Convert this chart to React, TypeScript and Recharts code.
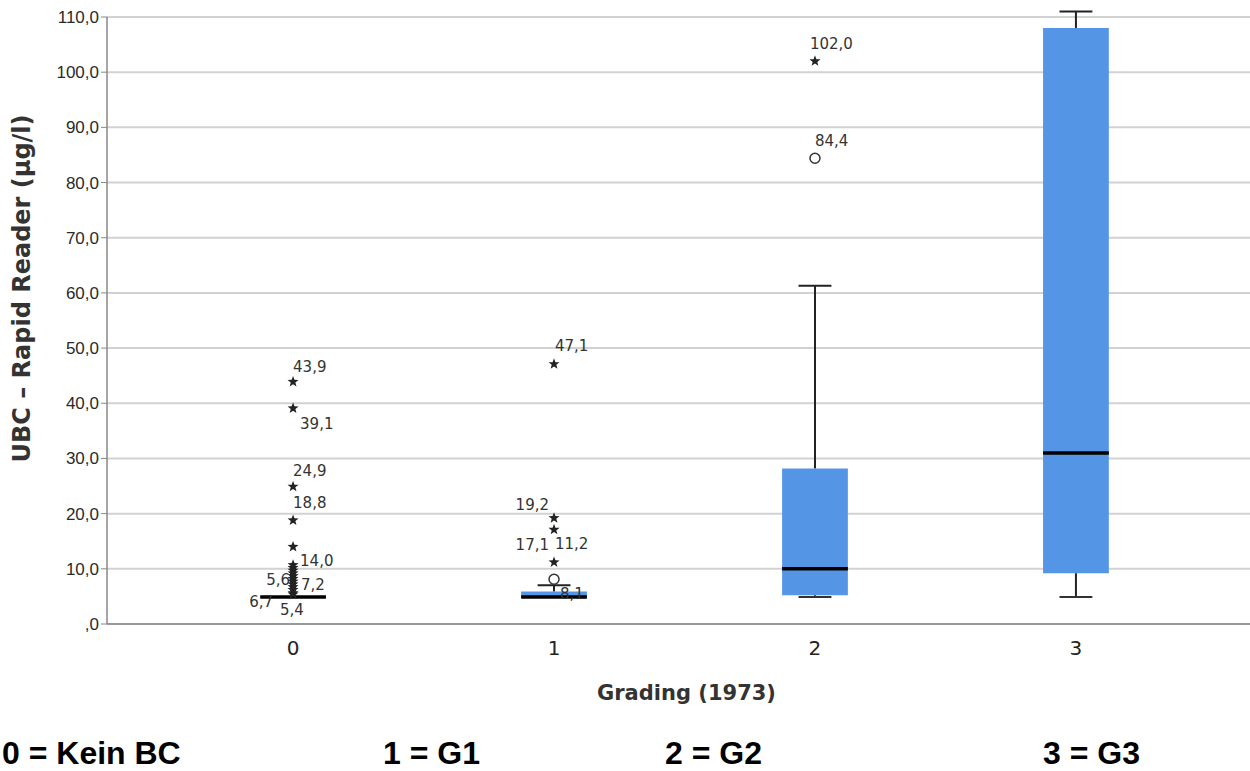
import React from "react";
import {
  ComposedChart,
  XAxis,
  YAxis,
  CartesianGrid,
  Scatter,
  ReferenceArea,
  ReferenceLine,
  Label,
} from "recharts";

// groups on the x axis
const categories = [0, 1, 2, 3];
const categoryLegend = ["0 = Kein BC", "1 = G1", "2 = G2", "3 = G3"];
const yTicks = [0, 10, 20, 30, 40, 50, 60, 70, 80, 90, 100, 110];

// box plot statistics per group
const q1 = [4.9, 4.9, 5.2, 9.2];
const medians = [4.9, 4.9, 10.0, 31.0];
const q3 = [4.9, 5.9, 28.2, 108.0];
const whiskerLow = [4.9, 4.9, 4.9, 4.9];
const whiskerHigh = [4.9, 7.0, 61.3, 111.0];

// outliers (stars = extreme, circles = mild)
const outliers0 = [43.9, 39.1, 24.9, 18.8, 14.0, 10.7, 10.2, 9.7, 9.2, 8.7, 8.2, 7.7, 7.2, 6.7, 6.2, 5.6, 5.4];
const outlierKinds0 = outliers0.map(() => "star");
const outliers1 = [47.1, 19.2, 17.1, 11.2, 8.1];
const outlierKinds1 = ["star", "star", "star", "star", "circle"];
const outliers2 = [102.0, 84.4];
const outlierKinds2 = ["star", "circle"];
const labelled = ["0:43.9", "0:39.1", "0:24.9", "0:18.8", "0:14.0", "0:7.2", "0:5.6", "0:6.7", "0:5.4",
  "1:47.1", "1:19.2", "1:17.1", "1:11.2", "1:8.1", "2:102.0", "2:84.4"];

// label placement next to each labelled point: [dx, dy, anchor]
const labelPlace: Record<string, [number, number, string]> = {
  "0:43.9": [0, -10, "start"],
  "0:39.1": [7, 21, "start"],
  "0:24.9": [0, -11, "start"],
  "0:18.8": [0, -12, "start"],
  "0:14.0": [7, 19, "start"],
  "0:7.2": [8, 6, "start"],
  "0:5.6": [-3, -8, "end"],
  "0:6.7": [-20, 20, "end"],
  "0:5.4": [-13, 21, "start"],
  "1:47.1": [1, -13, "start"],
  "1:19.2": [-5, -8, "end"],
  "1:17.1": [-5, 20, "end"],
  "1:11.2": [1, -13, "start"],
  "1:8.1": [6, 20, "start"],
  "2:102.0": [-5, -12, "start"],
  "2:84.4": [0, -12, "start"],
};

const BOX_HALF = 0.126;
const CAP_HALF = 0.063;
const BOX_COLOR = "#5495e5";

const fmt = (v: number) => (v === 0 ? ",0" : v.toFixed(1).replace(".", ","));

const outlierPoints = [
  ...outliers0.map((v, i) => ({ x: 0, y: v, kind: outlierKinds0[i] })),
  ...outliers1.map((v, i) => ({ x: 1, y: v, kind: outlierKinds1[i] })),
  ...outliers2.map((v, i) => ({ x: 2, y: v, kind: outlierKinds2[i] })),
].map((p) => {
  const key = `${p.x}:${p.y.toFixed(1)}`;
  return { ...p, key, label: labelled.includes(key) ? fmt(p.y) : null };
});

const starPath = (cx: number, cy: number, ro: number, ri: number) => {
  let d = "";
  for (let i = 0; i < 10; i++) {
    const r = i % 2 === 0 ? ro : ri;
    const a = -Math.PI / 2 + (i * Math.PI) / 5;
    d += `${i === 0 ? "M" : "L"}${cx + r * Math.cos(a)},${cy + r * Math.sin(a)}`;
  }
  return d + "Z";
};

const OutlierShape = (props: any) => {
  const { cx, cy, payload } = props;
  const place = labelPlace[payload.key];
  return (
    <g>
      {payload.kind === "star" ? (
        <path d={starPath(cx, cy, 5.8, 2.4)} fill="#222" />
      ) : (
        <circle cx={cx} cy={cy} r={5} fill="#fff" stroke="#333" strokeWidth={1.5} />
      )}
      {payload.label && place && (
        <text
          x={cx + place[0]}
          y={cy + place[1]}
          textAnchor={place[2] as any}
          fontSize={15}
          fontFamily="DejaVu Sans"
          fill="#333"
        >
          {payload.label}
        </text>
      )}
    </g>
  );
};

export default function App() {
  const legendLeft = [2, 383, 665, 1043];
  return (
    <div style={{ position: "absolute", left: 0, top: 0, width: 1250, height: 771, background: "#fff" }}>
      <ComposedChart width={1250} height={771} margin={{ top: 17, right: 0, bottom: 67, left: 0 }}>
        <CartesianGrid horizontal vertical={false} stroke="#d2d2d2" strokeWidth={2} />
        <XAxis
          type="number"
          dataKey="x"
          domain={[-0.713, 3.667]}
          ticks={categories}
          allowDataOverflow
          height={80}
          tickLine={false}
          axisLine={{ stroke: "#999", strokeWidth: 2 }}
          tick={{ fontSize: 20, fontFamily: "DejaVu Sans", fill: "#222" }}
          tickMargin={11}
        >
          <Label
            value="Grading (1973)"
            position="insideBottom"
            offset={4}
            dx={8}
            style={{ fontSize: 21, fontFamily: "DejaVu Sans", fontWeight: "bold", fill: "#333" }}
          />
        </XAxis>
        <YAxis
          type="number"
          dataKey="y"
          domain={[0, 110]}
          ticks={yTicks}
          allowDataOverflow
          width={107}
          tickSize={6}
          tickLine={{ stroke: "#888" }}
          axisLine={{ stroke: "#888", strokeWidth: 1.5 }}
          tickFormatter={fmt}
          tick={{ fontSize: 17, fontFamily: "Liberation Sans", fill: "#2a2a2a" }}
        >
          <Label
            value="UBC – Rapid Reader (µg/l)"
            position="center"
            angle={-90}
            dx={-32}
            dy={-32}
            style={{ fontSize: 24, fontFamily: "DejaVu Sans", fontWeight: "bold", fill: "#333", textAnchor: "middle" }}
          />
        </YAxis>
        {categories.map((c, i) =>
          q3[i] > q1[i] ? (
            <ReferenceArea
              key={`box${c}`}
              x1={c - BOX_HALF}
              x2={c + BOX_HALF}
              y1={q1[i]}
              y2={q3[i]}
              fill={BOX_COLOR}
              fillOpacity={1}
              stroke="none"
              ifOverflow="visible"
            />
          ) : null
        )}
        {categories.map((c, i) => (
          <ReferenceLine
            key={`wu${c}`}
            segment={[{ x: c, y: q3[i] }, { x: c, y: whiskerHigh[i] }]}
            stroke="#222"
            strokeWidth={2}
            ifOverflow="visible"
          />
        ))}
        {categories.map((c, i) => (
          <ReferenceLine
            key={`wl${c}`}
            segment={[{ x: c, y: whiskerLow[i] }, { x: c, y: q1[i] }]}
            stroke="#222"
            strokeWidth={2}
            ifOverflow="visible"
          />
        ))}
        {categories.map((c, i) => (
          <ReferenceLine
            key={`cu${c}`}
            segment={[{ x: c - CAP_HALF, y: whiskerHigh[i] }, { x: c + CAP_HALF, y: whiskerHigh[i] }]}
            stroke="#222"
            strokeWidth={2}
            ifOverflow="visible"
          />
        ))}
        {categories.map((c, i) => (
          <ReferenceLine
            key={`cl${c}`}
            segment={[{ x: c - CAP_HALF, y: whiskerLow[i] }, { x: c + CAP_HALF, y: whiskerLow[i] }]}
            stroke="#333"
            strokeWidth={2}
            ifOverflow="visible"
          />
        ))}
        {categories.map((c, i) => (
          <ReferenceLine
            key={`med${c}`}
            segment={[{ x: c - BOX_HALF, y: medians[i] }, { x: c + BOX_HALF, y: medians[i] }]}
            stroke="#000"
            strokeWidth={3.5}
            ifOverflow="visible"
          />
        ))}
        <Scatter data={outlierPoints} dataKey="y" shape={OutlierShape} isAnimationActive={false} />
      </ComposedChart>
      {categoryLegend.map((t, i) => (
        <div
          key={t}
          style={{
            position: "absolute",
            left: legendLeft[i],
            top: 737,
            fontFamily: "Liberation Sans",
            fontWeight: "bold",
            fontSize: 32,
            lineHeight: "32px",
            color: "#000",
            whiteSpace: "nowrap",
          }}
        >
          {t}
        </div>
      ))}
    </div>
  );
}
